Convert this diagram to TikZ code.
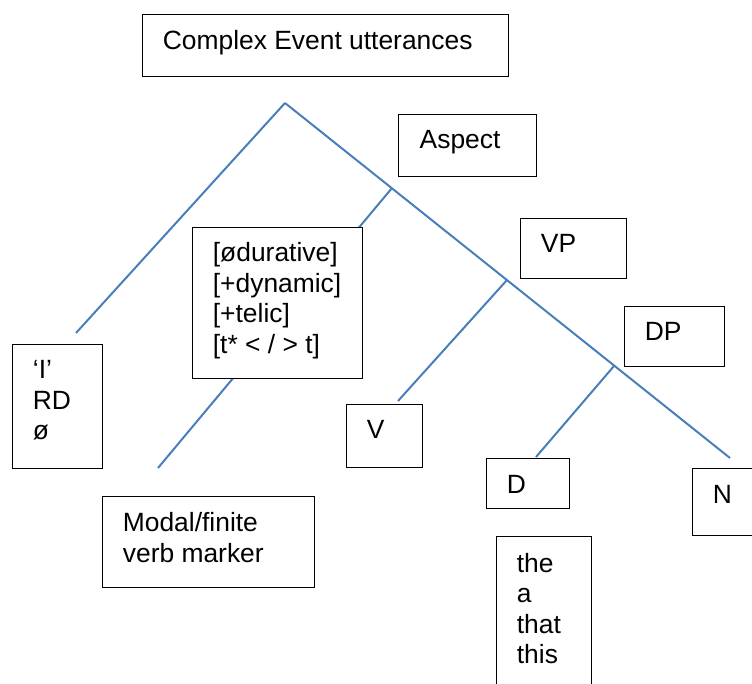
\documentclass[tikz,border=0pt]{standalone}
\usepackage{fontspec}
\setmainfont{Liberation Sans}
\begin{document}
\begin{tikzpicture}[x=1pt,y=-1pt,
  boxnode/.style={draw=black, line width=1.3pt, fill=white, inner sep=0pt, anchor=north west},
  lbl/.style={anchor=base west, inner sep=0pt, align=left, font=\fontsize{26.4}{30.5}\selectfont},
  branch/.style={draw={rgb,255:red,74;green,126;blue,187}, line width=2pt}]
\useasboundingbox (0,0) rectangle (752,684);
\clip (0,0) rectangle (752,684);
% junctions and free ends
\coordinate (apex) at (285,103);
\coordinate (jasp) at (392,188);
\coordinate (jvp) at (507,280);
\coordinate (jdp) at (614,366);
\coordinate (eI) at (76,333);
\coordinate (eMod) at (158,468);
\coordinate (eV) at (398,401);
\coordinate (eD) at (536,457);
\coordinate (eN) at (730,458);
% branches
\draw[branch] (apex) -- (eN);
\draw[branch] (apex) -- (eI);
\draw[branch] (jasp) -- (eMod);
\draw[branch] (jvp) -- (eV);
\draw[branch] (jdp) -- (eD);
% boxes
\node[boxnode, minimum width=366pt, minimum height=62pt] (cx) at (142,14) {};
\node[boxnode, minimum width=138pt, minimum height=62pt] (asp) at (398,114) {};
\node[boxnode, minimum width=170pt, minimum height=151pt] (feat) at (192,227) {};
\node[boxnode, minimum width=106pt, minimum height=60pt] (vp) at (520,218) {};
\node[boxnode, minimum width=100pt, minimum height=60pt] (dp) at (624,306) {};
\node[boxnode, minimum width=90pt, minimum height=124pt] (ib) at (12,344) {};
\node[boxnode, minimum width=76pt, minimum height=63pt] (vb) at (346,404) {};
\node[boxnode, minimum width=212pt, minimum height=91pt] (mod) at (102,496) {};
\node[boxnode, minimum width=83pt, minimum height=50pt] (db) at (486,458) {};
\node[boxnode, minimum width=80pt, minimum height=67pt] (nb) at (692,468) {};
\node[boxnode, minimum width=95pt, minimum height=180pt] (tb) at (496,536) {};
% labels (anchor base = baseline of the last line)
\node[lbl] (tcx) at (162.7,49.5) {Complex Event utterances};
\node[lbl] (tasp) at (419.5,148.7) {Aspect};
\node[lbl] (tfeat) at (212.7,353) {{[ødurative]}\\{[+dynamic]}\\{[+telic]}\\{[t* < / > t]}};
\node[lbl] (tvp) at (540.7,252.7) {VP};
\node[lbl] (tdp) at (644.7,340.7) {DP};
\node[lbl] (tib) at (32.7,439.5) {‘I’\\RD\\ø};
\node[lbl] (tvb) at (366.7,438.5) {V};
\node[lbl] (tmod) at (122.7,562) {Modal/finite\\verb marker};
\node[lbl] (tdb) at (506.7,493.5) {D};
\node[lbl] (tnb) at (712.7,503) {N};
\node[lbl] (ttb) at (516.7,663.5) {the\\a\\that\\this};
\end{tikzpicture}
\end{document}
